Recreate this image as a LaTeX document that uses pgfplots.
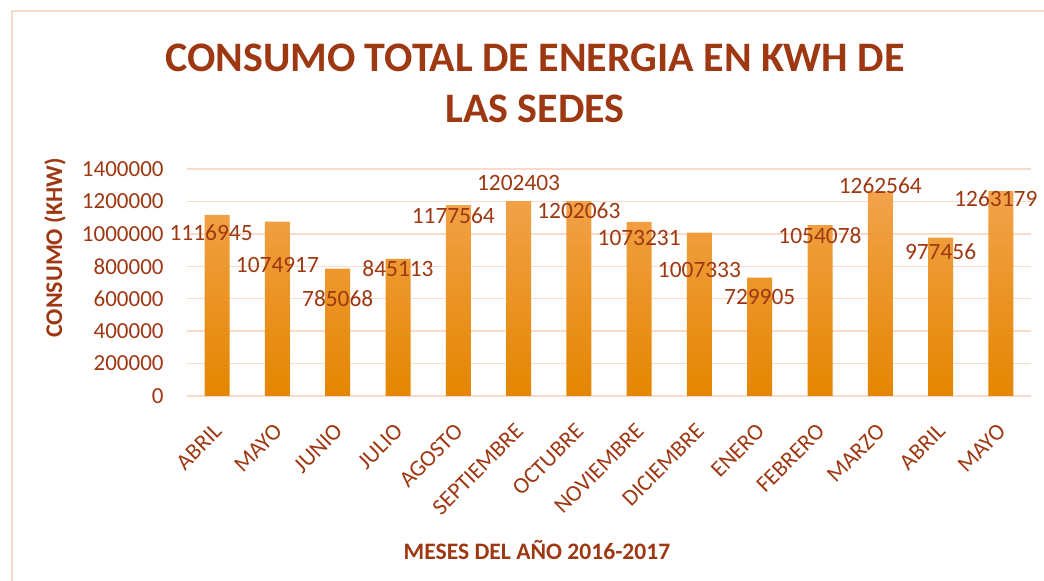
\documentclass[border=0pt]{standalone}
\usepackage{fontspec}
\setmainfont{Carlito}
\usepackage{pgfplots}
\pgfplotsset{compat=1.18}
\usepackage{pgfplotstable}
\definecolor{txt}{RGB}{158,56,18}
\definecolor{gridc}{RGB}{249,218,203}
\definecolor{bartop}{RGB}{242,163,75}
\definecolor{barmid}{RGB}{249,152,18}
\definecolor{barbot}{RGB}{228,134,0}

\pgfplotstableread{
x y lab dx dy
0 1116945 1116945 -3 -9
1 1074917 1074917 0 -21.5
2 785068 785068 0 -15
3 845113 845113 0 -5
4 1177564 1177564 -2.5 -5.5
5 1202403 1202403 0 9
6 1202063 1202063 0 -5
7 1073231 1073231 0 -8
8 1007333 1007333 0 -18.5
9 729905 729905 0 -9.5
10 1054078 1054078 0 -5.5
11 1262564 1262564 0 3
12 977456 977456 0 -7
13 1263179 1263179 -2.5 -4
}\datatable

\begin{document}
\begin{tikzpicture}
\useasboundingbox (0pt,-290.5pt) rectangle (522pt,0pt);
\fill[white] (0pt,-290.5pt) rectangle (522pt,0pt);
\draw[gridc, line width=0.75pt] (6pt,-300pt) -- (6pt,-5.5pt) -- (530pt,-5.5pt);
\begin{axis}[
  scale only axis, width=422pt, height=113.5pt,
  at={(93.5pt,-198pt)}, anchor=south west,
  ybar, bar width=12.5pt, bar shift=0pt,
  xmin=-0.5, xmax=13.5, ymin=0, ymax=1400000,
  clip=false,
  axis line style={draw=none},
  major tick style={draw=none},
  ymajorgrids, grid style={gridc, line width=0.75pt},
  scaled y ticks=false,
  ytick={0,200000,400000,600000,800000,1000000,1200000,1400000},
  yticklabels={0,200000,400000,600000,800000,1000000,1200000,1400000},
  xtick={0,1,2,3,4,5,6,7,8,9,10,11,12,13},
  xticklabels={ABRIL,MAYO,JUNIO,JULIO,AGOSTO,SEPTIEMBRE,OCTUBRE,NOVIEMBRE,DICIEMBRE,ENERO,FEBRERO,MARZO,ABRIL,MAYO},
  xticklabel style={xshift=0.5pt, yshift=-11.5pt, rotate=45, anchor=east, inner sep=0pt, font=\fontsize{11.5}{12}\selectfont, text=txt},
  yticklabel style={anchor=east, inner sep=0pt, xshift=-11.5pt, font=\fontsize{11.5}{12}\selectfont, text=txt},
]
\addplot[draw=none, top color=bartop, middle color=barmid, bottom color=barbot]
  table[x=x, y=y] {\datatable};
\addplot[draw=none, fill=none,
  nodes near coords, point meta=explicit symbolic,
  visualization depends on={\thisrow{dx} \as \mydx},
  visualization depends on={\thisrow{dy} \as \mydy},
  every node near coord/.append style={anchor=center, xshift=\mydx pt, yshift=\mydy pt, font=\fontsize{11.7}{12}\selectfont, text=txt, inner sep=0pt}]
  table[x=x, y=y, meta=lab] {\datatable};
\end{axis}
\node[text=txt, font=\bfseries\fontsize{21}{25.5}\selectfont, align=center, anchor=center] at (267.5pt,-41.5pt) {CONSUMO TOTAL DE ENERGIA EN KWH DE\\LAS SEDES};
\node[rotate=90, text=txt, font=\bfseries\fontsize{12}{14}\selectfont, anchor=base, inner sep=0pt] at (31pt,-124pt) {CONSUMO (KHW)};
\node[text=txt, font=\bfseries\fontsize{11.8}{14}\selectfont, anchor=base, inner sep=0pt] at (268.5pt,-280pt) {MESES DEL AÑO 2016-2017};
\end{tikzpicture}
\end{document}
